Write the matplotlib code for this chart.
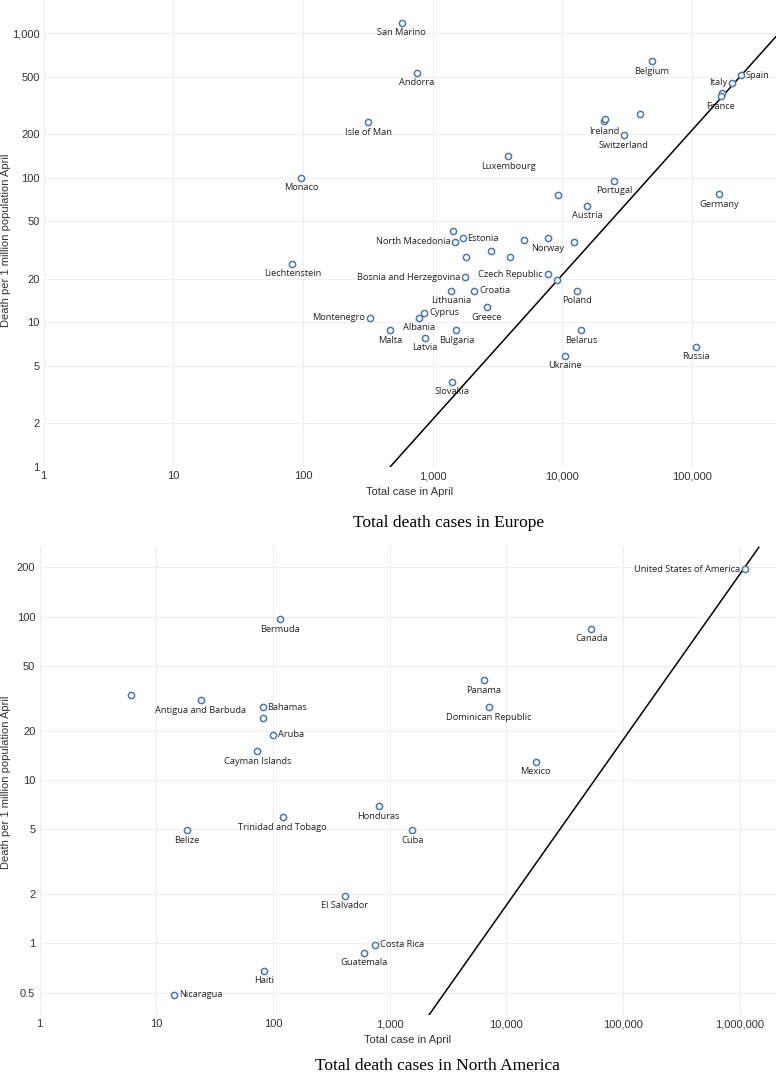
import matplotlib
matplotlib.use('Agg')
import matplotlib.pyplot as plt
from matplotlib.ticker import FixedLocator, FuncFormatter, NullLocator

# Europe: total cases in April vs deaths per 1 million population
eu_names = ['San Marino', 'Andorra', 'Isle of Man', 'Monaco', 'Liechtenstein', 'Montenegro', 'Malta',
            'Belgium', 'Spain', 'Italy', '', 'France', 'Ireland', '', '', 'Switzerland',
            'Luxembourg', 'Portugal', '', 'Germany', 'Austria', '', 'North Macedonia', 'Estonia',
            '', 'Norway', '', '', '', '', 'Bosnia and Herzegovina', 'Czech Republic', '',
            'Lithuania', 'Croatia', 'Poland', 'Greece', 'Cyprus', 'Albania', 'Bulgaria', 'Latvia',
            'Belarus', 'Ukraine', 'Russia', 'Slovakia']
eu_cases = [578, 755, 320, 97, 83, 330, 470,
            49100, 240000, 205600, 172000, 167000, 21000, 21300, 39700, 29900,
            3830, 25300, 9250, 163000, 15560, 1448, 1492, 1710,
            5050, 7780, 12300, 2810, 1815, 3945, 1782, 7780, 9080,
            1397, 2100, 12970, 2620, 860, 787, 1527, 871,
            14060, 10470, 107000, 1413]
eu_deaths = [1186, 535, 243, 100, 25.5, 10.8, 8.8,
             643, 512, 455, 384, 368, 247, 255, 275, 197,
             141, 95.3, 76.6, 77.4, 64, 43.2, 36.2, 38.1,
             37.2, 38.1, 36.2, 31.3, 28.4, 28.4, 20.5, 21.5, 19.6,
             16.6, 16.6, 16.6, 12.7, 11.7, 10.8, 8.8, 7.86,
             8.8, 5.87, 6.81, 3.89]
eu_line_x = [470, 447000]
eu_line_y = [1.0, 950]

# North America
na_names = ['', 'Antigua and Barbuda', 'Bermuda', 'Bahamas', '', 'Aruba', 'Cayman Islands',
            'United States of America', 'Canada', 'Panama', 'Dominican Republic', 'Mexico',
            'Honduras', 'Trinidad and Tobago', 'Belize', 'Cuba', 'El Salvador', 'Costa Rica',
            'Guatemala', 'Haiti', 'Nicaragua']
na_cases = [6.05, 24.1, 115, 81.8, 81.8, 101, 73.5,
            1110000, 53500, 6440, 7060, 17870,
            804, 121, 18.4, 1571, 411, 750,
            609, 83.9, 14.3]
na_deaths = [33.0, 30.8, 96, 27.9, 23.8, 18.9, 15.0,
             194, 84, 40.9, 27.9, 12.9,
             6.9, 5.91, 4.92, 4.92, 1.96, 0.98,
             0.878, 0.682, 0.486]
na_line_x = [2176, 1460000]
na_line_y = [0.365, 265]

# labels not placed under their point
label_side = {'Montenegro': 'l', 'Spain': 'r', 'Italy': 'l', 'North Macedonia': 'l', 'Estonia': 'r',
              'Bosnia and Herzegovina': 'l', 'Czech Republic': 'l', 'Croatia': 'r', 'Cyprus': 'r',
              'Bahamas': 'r', 'Aruba': 'r', 'United States of America': 'l', 'Costa Rica': 'r',
              'Nicaragua': 'r'}

BLUE = '#4e79a7'
TICK_FONT = 'Liberation Sans'
LABEL_FONT = ['Open Sans', 'DejaVu Sans']
W, H = 780, 1077


def fmt_num(v, pos=None):
    if v < 1:
        return '%g' % v
    return '{:,.0f}'.format(v)


def draw_panel(ax, names, cases, deaths, line_x, line_y, xticks, yticks, xlim, ylim):
    ax.set_xscale('log')
    ax.set_yscale('log')
    ax.set_xlim(*xlim)
    ax.set_ylim(*ylim)

    ax.plot(line_x, line_y, color='black', lw=1.1, zorder=2)
    ax.scatter(cases, deaths, s=20, facecolors='white', edgecolors=BLUE, linewidths=1.1, zorder=3)

    for name, x, y in zip(names, cases, deaths):
        if not name:
            continue
        side = label_side.get(name, 'b')
        if side == 'l':
            off, ha, va = (-3.5, 0), 'right', 'center'
        elif side == 'r':
            off, ha, va = (3.5, 0), 'left', 'center'
        else:
            off, ha, va = (0, -4), 'center', 'top'
        ax.annotate(name, (x, y), xytext=off, textcoords='offset points', ha=ha, va=va,
                    fontsize=6.7, family=LABEL_FONT, color='#222222', zorder=4)

    ax.xaxis.set_major_locator(FixedLocator(xticks))
    ax.yaxis.set_major_locator(FixedLocator(yticks))
    ax.xaxis.set_minor_locator(NullLocator())
    ax.yaxis.set_minor_locator(NullLocator())
    ax.xaxis.set_major_formatter(FuncFormatter(fmt_num))
    ax.yaxis.set_major_formatter(FuncFormatter(fmt_num))
    ax.tick_params(length=0, labelsize=8, colors='#333333', pad=3)
    for lab in ax.get_xticklabels() + ax.get_yticklabels():
        lab.set_family(TICK_FONT)
    ax.grid(True, color='#eeeeee', lw=0.8)
    ax.set_axisbelow(True)
    for sp in ax.spines.values():
        sp.set_visible(False)
    ax.set_xlabel('Total case in April', fontsize=8, family=TICK_FONT, color='#333333', labelpad=4)


fig = plt.figure(figsize=(7.8, 10.77), dpi=100)

ax1 = fig.add_axes([43.7 / W, 1 - 467 / H, (776 - 43.7) / W, 467 / H])
draw_panel(ax1, eu_names, eu_cases, eu_deaths, eu_line_x, eu_line_y,
           [1, 10, 100, 1000, 10000, 100000], [1, 2, 5, 10, 20, 50, 100, 200, 500, 1000],
           (1, 447000), (1, 1700))

ax2 = fig.add_axes([39.5 / W, 1 - 1015 / H, (776 - 39.5) / W, (1015 - 546) / H])
draw_panel(ax2, na_names, na_cases, na_deaths, na_line_x, na_line_y,
           [1, 10, 100, 1000, 10000, 100000, 1000000], [0.5, 1, 2, 5, 10, 20, 50, 100, 200],
           (1, 2050000), (0.365, 270))

# y axis titles sit right at the left edge
for yc in (240, 782):
    fig.text(6 / W, 1 - yc / H, 'Death per 1 million population April', rotation=90,
             ha='center', va='center', fontsize=8, family=TICK_FONT, color='#333333')

fig.text(449 / W, 1 - 523 / H, 'Total death cases in Europe', ha='center', va='center',
         fontsize=12.5, family='Liberation Serif')
fig.text(437 / W, 1 - 1066 / H, 'Total death cases in North America', ha='center', va='center',
         fontsize=12.5, family='Liberation Serif')

fig.savefig('out.png', dpi=100)
